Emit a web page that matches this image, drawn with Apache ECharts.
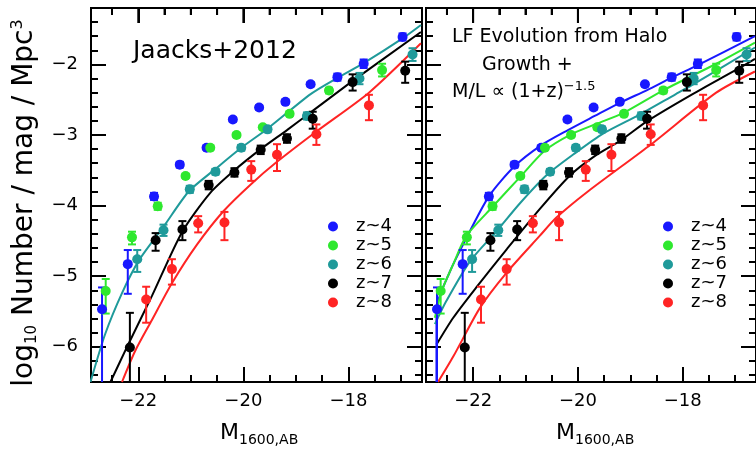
<!DOCTYPE html>
<html>
<head>
<meta charset="utf-8">
<script src="https://cdn.jsdelivr.net/npm/echarts@6/dist/echarts.min.js"></script>
<style>
  html, body { margin: 0; padding: 0; background: #fff; }
  #chart { width: 756px; height: 453px; }
</style>
</head>
<body>
<div id="chart"></div>
<script>
// data points [M, log phi, lower, upper]
const z4Points = [
  [-22.69, -5.47, -6.50, -5.16], [-22.20, -4.83, -5.25, -4.63], [-21.70, -3.87, -3.92, -3.82],
  [-21.21, -3.42, -3.46, -3.38], [-20.70, -3.18, -3.21, -3.15], [-20.20, -2.78, -2.81, -2.75],
  [-19.70, -2.61, -2.64, -2.58], [-19.20, -2.53, -2.56, -2.50], [-18.72, -2.28, -2.31, -2.25],
  [-18.21, -2.18, -2.23, -2.13], [-17.71, -1.99, -2.05, -1.93], [-16.97, -1.61, -1.66, -1.56]
]
const z5Points = [
  [-22.62, -5.21, -5.53, -5.04], [-22.12, -4.45, -4.55, -4.37], [-21.63, -4.01, -4.06, -3.96],
  [-21.10, -3.58, -3.61, -3.55], [-20.63, -3.18, -3.21, -3.15], [-20.13, -3.00, -3.03, -2.97],
  [-19.63, -2.89, -2.92, -2.86], [-19.12, -2.70, -2.73, -2.67], [-18.37, -2.37, -2.41, -2.33],
  [-17.36, -2.08, -2.17, -1.99]
]
const z6Points = [
  [-22.02, -4.76, -4.94, -4.63], [-21.52, -4.35, -4.43, -4.27], [-21.02, -3.77, -3.82, -3.72],
  [-20.53, -3.52, -3.56, -3.48], [-20.04, -3.18, -3.22, -3.14], [-19.54, -2.92, -2.96, -2.88],
  [-18.79, -2.73, -2.78, -2.68], [-17.79, -2.20, -2.28, -2.12], [-16.78, -1.86, -1.95, -1.77]
]
const z7Points = [
  [-22.16, -6.01, -6.50, -5.52], [-21.67, -4.49, -4.64, -4.39], [-21.16, -4.34, -4.49, -4.22],
  [-20.66, -3.71, -3.77, -3.65], [-20.17, -3.53, -3.59, -3.47], [-19.67, -3.21, -3.27, -3.15],
  [-19.17, -3.05, -3.11, -2.99], [-18.68, -2.77, -2.91, -2.67], [-17.92, -2.25, -2.37, -2.14],
  [-16.92, -2.09, -2.26, -1.96]
]
const z8Points = [
  [-21.85, -5.33, -5.66, -5.15], [-21.36, -4.90, -5.12, -4.76], [-20.86, -4.25, -4.38, -4.15],
  [-20.36, -4.24, -4.49, -4.09], [-19.85, -3.49, -3.65, -3.37], [-19.36, -3.28, -3.51, -3.13],
  [-18.61, -2.99, -3.14, -2.85], [-17.61, -2.58, -2.79, -2.43]
]

// left panel: simulation LFs
const simZ6 = [[-22.91, -6.5], [-22.63, -5.82], [-22.31, -5.24], [-21.99, -4.78], [-21.52, -4.30], [-21.04, -3.80],
  [-20.53, -3.48], [-20.04, -3.18], [-19.54, -2.91], [-18.72, -2.42], [-18.21, -2.19], [-17.71, -1.98],
  [-16.97, -1.63], [-16.62, -1.44]]
const simZ7 = [[-22.53, -6.5], [-22.18, -5.95], [-21.74, -5.28], [-21.17, -4.38], [-20.63, -3.82], [-20.17, -3.50],
  [-19.67, -3.20], [-19.17, -2.93], [-18.72, -2.68], [-17.93, -2.24], [-16.62, -1.54]]
const simZ8 = [[-22.31, -6.5], [-22.06, -6.06], [-21.74, -5.62], [-21.36, -5.10], [-20.88, -4.55], [-20.38, -4.08],
  [-19.86, -3.70], [-19.36, -3.38], [-18.61, -2.95], [-17.61, -2.40], [-16.62, -1.70]]

// right panel: halo growth model
const modZ4 = [[-22.70, -6.5], [-22.70, -5.47], [-22.44, -4.93], [-22.19, -4.55], [-21.70, -3.87], [-21.22, -3.45],
  [-20.71, -3.15], [-20.19, -2.93], [-19.68, -2.73], [-19.19, -2.54], [-18.67, -2.36], [-18.22, -2.19],
  [-17.71, -2.01], [-16.62, -1.60]]
const modZ5 = [[-22.73, -5.59], [-22.60, -5.21], [-22.38, -4.83], [-22.13, -4.43], [-21.62, -4.01], [-21.11, -3.60],
  [-20.63, -3.22], [-20.13, -2.99], [-19.64, -2.84], [-19.14, -2.69], [-18.38, -2.37], [-17.36, -1.99],
  [-16.62, -1.69]]
const modZ6 = [[-22.73, -5.68], [-22.51, -5.35], [-22.06, -4.79], [-21.55, -4.36], [-21.11, -3.97], [-20.60, -3.57],
  [-20.04, -3.25], [-19.52, -2.98], [-18.82, -2.71], [-18.13, -2.42], [-17.79, -2.28], [-16.62, -1.76]]
const modZ7 = [[-22.70, -5.97], [-22.38, -5.59], [-21.94, -5.16], [-21.36, -4.62], [-20.73, -4.05], [-20.16, -3.58],
  [-19.68, -3.30], [-19.17, -3.07], [-18.67, -2.80], [-17.81, -2.42], [-16.94, -2.06], [-16.62, -1.92]]
const modZ8 = [[-22.67, -6.5], [-22.38, -6.14], [-21.87, -5.45], [-21.36, -4.95], [-20.73, -4.43], [-20.41, -4.17],
  [-19.81, -3.80], [-18.60, -3.13], [-17.36, -2.40], [-16.62, -2.10]]

const legendNames = ['z~4', 'z~5', 'z~6', 'z~7', 'z~8']
const majorX = [-22, -20, -18]
const minorX = [-22.5, -21.5, -21, -20.5, -19.5, -19, -18.5, -17.5, -17]
const majorY = [-6, -5, -4, -3, -2]
const minorY = []
for (let k = -64; k <= -14; k += 2) {
  if (k % 10 !== 0) minorY.push(k / 10)
}

const FONT = 'DejaVu Sans'
const X_MIN = -22.9, X_MAX = -16.6, Y_MIN = -6.5, Y_MAX = -1.2
const sets = [
  { name: 'z~4', color: '#1818ff', pts: z4Points, sim: null, mod: modZ4 },
  { name: 'z~5', color: '#2ee82e', pts: z5Points, sim: null, mod: modZ5 },
  { name: 'z~6', color: '#1f9a9a', pts: z6Points, sim: simZ6, mod: modZ6 },
  { name: 'z~7', color: '#000000', pts: z7Points, sim: simZ7, mod: modZ7 },
  { name: 'z~8', color: '#ff2424', pts: z8Points, sim: simZ8, mod: modZ8 }
]

const minus = v => (v < 0 ? '\u2212' : '') + Math.abs(v)

function xAx (g, ticks, len, label) {
  return {
    type: 'value', gridIndex: g, position: 'bottom', min: X_MIN, max: X_MAX,
    splitLine: { show: false }, axisLine: { show: false, onZero: false },
    axisTick: { show: true, inside: true, length: len, customValues: ticks, lineStyle: { color: '#000', width: 2 } },
    axisLabel: { show: label, customValues: majorX, formatter: minus, margin: 10, color: '#000', fontSize: 18, fontFamily: FONT }
  }
}
function yAx (g, position, ticks, len, label) {
  return {
    type: 'value', gridIndex: g, position: position, min: Y_MIN, max: Y_MAX,
    splitLine: { show: false }, axisLine: { show: false, onZero: false },
    axisTick: { show: true, inside: true, length: len, customValues: ticks, lineStyle: { color: '#000', width: 2 } },
    axisLabel: { show: label, customValues: majorY, formatter: minus, margin: 13, color: '#000', fontSize: 18, fontFamily: FONT }
  }
}

const xAxis = []
const yAxis = []
for (let g = 0; g < 2; g++) {
  xAxis.push(xAx(g, majorX, 15, true), xAx(g, minorX, 7, false))
  yAxis.push(yAx(g, 'left', majorY, 15, g === 0), yAx(g, 'left', minorY, 7, false),
    yAx(g, 'right', majorY, 15, false), yAx(g, 'right', minorY, 7, false))
}

function errorBars (params, api) {
  const x = api.value(0)
  const lo = api.coord([x, api.value(2)])
  const hi = api.coord([x, api.value(3)])
  const style = { stroke: api.visual('color'), lineWidth: 2 }
  const kids = [{ type: 'line', shape: { x1: lo[0], y1: lo[1], x2: hi[0], y2: hi[1] }, style: style },
    { type: 'line', shape: { x1: hi[0] - 4, y1: hi[1], x2: hi[0] + 4, y2: hi[1] }, style: style }]
  if (api.value(2) > Y_MIN) {
    kids.push({ type: 'line', shape: { x1: lo[0] - 4, y1: lo[1], x2: lo[0] + 4, y2: lo[1] }, style: style })
  }
  return { type: 'group', children: kids }
}

// short segments hanging down from the top frame (tick length in data units: 15px and 7px)
const topTickLines = []
majorX.forEach(v => topTickLines.push([{ coord: [v, Y_MAX] }, { coord: [v, Y_MAX - 0.2125] }]))
minorX.forEach(v => topTickLines.push([{ coord: [v, Y_MAX] }, { coord: [v, Y_MAX - 0.099] }]))

const series = []
for (let g = 0; g < 2; g++) {
  sets.forEach((s, i) => {
    const line = g === 0 ? s.sim : s.mod
    if (line) {
      series.push({
        name: s.name + ' fit', type: 'line', xAxisIndex: 2 * g, yAxisIndex: 4 * g,
        data: line, showSymbol: false, smooth: 0.25, z: 1,
        lineStyle: { color: s.color, width: 2 }, itemStyle: { color: s.color }
      })
    }
    series.push({
      name: s.name + ' err', type: 'custom', xAxisIndex: 2 * g, yAxisIndex: 4 * g,
      renderItem: errorBars, data: s.pts, itemStyle: { color: s.color }, z: 2
    })
    const sc = {
      name: s.name, type: 'scatter', xAxisIndex: 2 * g, yAxisIndex: 4 * g,
      data: s.pts.map(p => [p[0], p[1]]), symbol: 'circle', symbolSize: 10, z: 3,
      itemStyle: { color: s.color, opacity: 1 }
    }
    if (i === 3) {
      sc.markLine = {
        silent: true, symbol: 'none', animation: false, label: { show: false },
        lineStyle: { color: '#000', width: 2, type: 'solid' }, emphasis: { disabled: true },
        data: topTickLines
      }
    }
    series.push(sc)
  })
}

function legendAt (left) {
  return {
    data: legendNames, orient: 'vertical', left: left, top: 212, icon: 'circle',
    itemWidth: 10, itemHeight: 10, itemGap: 0, selectedMode: false,
    textStyle: { color: '#000', fontSize: 18, fontFamily: FONT, lineHeight: 19, padding: [0, 0, 0, 13] }
  }
}

const txt = { fill: '#000', fontFamily: FONT }
const texts = [
  { type: 'text', x: 133, y: 51, style: Object.assign({ text: 'Jaacks+2012', fontSize: 25, textVerticalAlign: 'middle' }, txt) },
  { type: 'text', x: 452, y: 37, style: Object.assign({ text: 'LF Evolution from Halo', fontSize: 19, textVerticalAlign: 'middle' }, txt) },
  { type: 'text', x: 482, y: 65, style: Object.assign({ text: 'Growth +', fontSize: 19, textVerticalAlign: 'middle' }, txt) },
  {
    type: 'text', x: 452, y: 92,
    style: Object.assign({
      text: 'M/L \u221d (1+z){sup|\u22121.5}', fontSize: 19, textVerticalAlign: 'middle',
      rich: { sup: { fontSize: 13, fontFamily: FONT, fill: '#000', padding: [0, 0, 11, 0] } }
    }, txt)
  },
  {
    type: 'text', x: 25, y: 203, rotation: Math.PI / 2,
    style: Object.assign({
      text: 'log{sub|10} Number / mag / Mpc{sup|3}', fontSize: 28, textAlign: 'center', textVerticalAlign: 'middle',
      rich: {
        sub: { fontSize: 15, fontFamily: FONT, fill: '#000', padding: [14, 0, 0, 0] },
        sup: { fontSize: 16, fontFamily: FONT, fill: '#000', padding: [0, 0, 14, 0] }
      }
    }, txt)
  },
  {
    type: 'text', x: 220, y: 433,
    style: Object.assign({ text: 'M{sub|1600,AB}', fontSize: 22, textVerticalAlign: 'middle',
      rich: { sub: { fontSize: 14, fontFamily: FONT, fill: '#000', padding: [14, 0, 0, 0] } } }, txt)
  },
  {
    type: 'text', x: 556, y: 433,
    style: Object.assign({ text: 'M{sub|1600,AB}', fontSize: 22, textVerticalAlign: 'middle',
      rich: { sub: { fontSize: 14, fontFamily: FONT, fill: '#000', padding: [14, 0, 0, 0] } } }, txt)
  }
]

const option = {
  animation: false,
  backgroundColor: '#fff',
  grid: [
    { left: 91, top: 8, width: 331, height: 374, show: true, borderColor: '#000', borderWidth: 2 },
    { left: 426, top: 8, width: 330, height: 374, show: true, borderColor: '#000', borderWidth: 2 }
  ],
  xAxis: xAxis,
  yAxis: yAxis,
  legend: [legendAt(323), legendAt(658)],
  series: series
}

const myChart = echarts.init(document.getElementById('chart'))
myChart.setOption(option)

// same top ticks again as graphic lines on a higher layer, placed with the axis scale
const marks = []
for (let g = 0; g < 2; g++) {
  const finder = { xAxisIndex: 2 * g, yAxisIndex: 4 * g }
  majorX.concat(minorX).forEach(v => {
    const p = myChart.convertToPixel(finder, [v, Y_MAX])
    const len = majorX.indexOf(v) >= 0 ? 15 : 7
    marks.push({ type: 'line', zlevel: 2, z: 100, shape: { x1: p[0], y1: p[1], x2: p[0], y2: p[1] + len }, style: { stroke: '#000', lineWidth: 2 } })
  })
}
myChart.setOption({ graphic: marks.concat(texts) })
</script>
</body>
</html>
